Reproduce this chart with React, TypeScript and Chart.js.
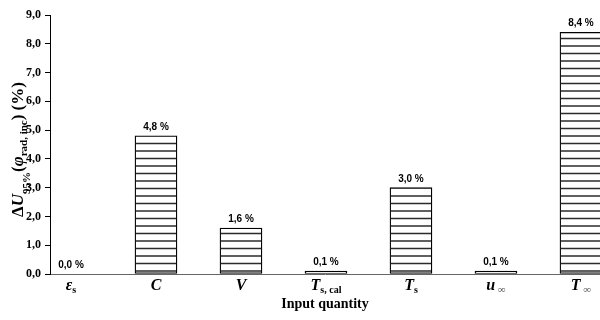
import React, { useEffect, useRef } from 'react';
import { Chart, registerables } from 'chart.js';

Chart.register(...registerables);

// ---- data ----
const categoryMain = ['ε', 'C', 'V', 'T', 'T', 'u', 'T'];
const categorySub = ['s', '', '', 's, cal', 's', '∞', '∞'];
const uncertaintyValues = [0.0, 4.8, 1.6, 0.1, 3.0, 0.1, 8.4];
const yTickValues = [0, 1, 2, 3, 4, 5, 6, 7, 8, 9];
const xAxisTitle = 'Input quantity';

const SERIF = '"Liberation Serif", "Times New Roman", serif';
const SANS = '"Liberation Sans", Arial, sans-serif';

const fmt = (v: number) => v.toFixed(1).replace('.', ',');

const stripePlugin = {
  id: 'stripes',
  afterDatasetsDraw(chart: any) {
    const ctx = chart.ctx;
    const meta = chart.getDatasetMeta(0);
    ctx.save();
    ctx.strokeStyle = '#2b2b2b';
    ctx.lineWidth = 1.6;
    const period = 7.5;
    const phase = 1;
    meta.data.forEach((el: any) => {
      const { x, y, base, width } = el.getProps(['x', 'y', 'base', 'width'], true);
      const top = Math.min(y, base);
      const bottom = Math.max(y, base);
      if (bottom - top < 6) return;
      const left = x - width / 2 + 0.8;
      const right = x + width / 2 - 0.8;
      let ly = Math.ceil((top + 1.5 - phase) / period) * period + phase;
      for (; ly < bottom - 1.5; ly += period) {
        ctx.beginPath();
        ctx.moveTo(left, ly);
        ctx.lineTo(right, ly);
        ctx.stroke();
      }
    });
    ctx.restore();
  },
};

type Seg = { t: string; font: string; dy: number; color?: string };

function drawSegs(ctx: CanvasRenderingContext2D, segs: Seg[], cx: number, baseY: number) {
  let total = 0;
  const widths = segs.map((s) => {
    ctx.font = s.font;
    const w = ctx.measureText(s.t).width;
    total += w;
    return w;
  });
  let x = cx - total / 2;
  segs.forEach((s, i) => {
    ctx.font = s.font;
    ctx.fillStyle = s.color || '#000';
    ctx.fillText(s.t, x, baseY + s.dy);
    x += widths[i];
  });
}

const textPlugin = {
  id: 'texts',
  afterDraw(chart: any) {
    const ctx: CanvasRenderingContext2D = chart.ctx;
    const xScale = chart.scales.x;
    const area = chart.chartArea;
    const meta = chart.getDatasetMeta(0);
    ctx.save();
    ctx.textAlign = 'left';
    ctx.textBaseline = 'alphabetic';

    // value labels
    meta.data.forEach((el: any, i: number) => {
      const { x, y } = el.getProps(['x', 'y'], true);
      ctx.font = `bold 10px ${SANS}`;
      ctx.fillStyle = '#000';
      ctx.textAlign = 'center';
      ctx.fillText(fmt(uncertaintyValues[i]) + ' %', x, y - 6);
    });
    ctx.textAlign = 'left';

    // category labels
    categoryMain.forEach((m, i) => {
      const cx = xScale.getPixelForValue(i);
      const sub = categorySub[i];
      const segs: Seg[] = [{ t: m, font: `italic bold 16px ${SERIF}`, dy: 0 }];
      if (sub === '∞') {
        segs.push({ t: ' ∞', font: `11px ${SERIF}`, dy: 3, color: '#555' });
      } else if (sub) {
        segs.push({ t: sub, font: `bold 10px ${SERIF}`, dy: 3 });
      }
      drawSegs(ctx, segs, cx, area.bottom + 16);
    });

    // x title
    drawSegs(
      ctx,
      [{ t: xAxisTitle, font: `bold 14px ${SERIF}`, dy: 0 }],
      (area.left + area.right) / 2,
      area.bottom + 34
    );

    // y title (rotated)
    ctx.save();
    ctx.translate(23, (area.top + area.bottom) / 2 + 5);
    ctx.rotate(-Math.PI / 2);
    drawSegs(
      ctx,
      [
        { t: 'Δ', font: `bold 17px ${SERIF}`, dy: 0 },
        { t: 'U', font: `italic bold 17px ${SERIF}`, dy: 0 },
        { t: '95%', font: `bold 11px ${SERIF}`, dy: 7 },
        { t: '(', font: `bold 17px ${SERIF}`, dy: 0 },
        { t: 'φ', font: `italic bold 17px ${SERIF}`, dy: 0 },
        { t: 'rad, inc', font: `bold 11px ${SERIF}`, dy: 4 },
        { t: ') (%)', font: `bold 17px ${SERIF}`, dy: 0 },
      ],
      0,
      0
    );
    ctx.restore();

    ctx.restore();
  },
};

export default function App() {
  const ref = useRef<HTMLCanvasElement | null>(null);

  useEffect(() => {
    if (!ref.current) return;
    const chart = new Chart(ref.current, {
      type: 'bar',
      data: {
        datasets: [
          {
            data: uncertaintyValues.map((v, i) => ({ x: i, y: v })),
            backgroundColor: '#ffffff',
            borderColor: '#000000',
            borderWidth: 1.3,
            borderSkipped: false,
            barThickness: 42,
          } as any,
        ],
      },
      options: {
        animation: false,
        responsive: false,
        maintainAspectRatio: false,
        layout: { padding: { top: 15, right: 0, left: 0, bottom: 0 } },
        plugins: {
          legend: { display: false },
          tooltip: { enabled: false },
          title: { display: false },
        },
        scales: {
          x: {
            type: 'linear',
            offset: false,
            min: -0.247,
            max: 6.224,
            afterBuildTicks: (scale: any) => {
              scale.ticks = categoryMain.map((_, i) => ({ value: i }));
            },
            afterFit: (scale: any) => {
              scale.height = 46;
            },
            ticks: { display: false },
            grid: { display: false, offset: false },
            border: { display: true, color: '#666666', width: 1 },
          },
          y: {
            type: 'linear',
            min: 0,
            max: 9,
            afterBuildTicks: (scale: any) => {
              scale.ticks = yTickValues.map((v) => ({ value: v }));
            },
            afterFit: (scale: any) => {
              scale.width = 50;
            },
            ticks: {
              color: '#000',
              padding: 4,
              font: { family: SERIF, size: 12, weight: 'bold' },
              callback: (v: any) => fmt(Number(v)),
            },
            grid: {
              display: true,
              drawOnChartArea: false,
              drawTicks: true,
              tickLength: 5,
              color: '#000',
            },
            border: { display: true, color: '#000', width: 1 },
          },
        },
      } as any,
      plugins: [stripePlugin, textPlugin],
    });
    return () => chart.destroy();
  }, []);

  return (
    <div style={{ position: 'absolute', left: 0, top: 0, width: 600, height: 320, background: '#fff' }}>
      <canvas ref={ref} width={600} height={320} style={{ display: 'block' }} />
    </div>
  );
}
